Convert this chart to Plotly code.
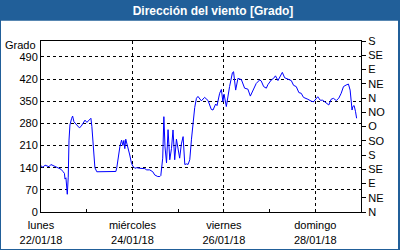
import pandas as pd
import plotly.graph_objects as go

# hours since 22/01/18 00:00
hours = [0, 1.0, 2.1, 3.1, 4.2, 5.2, 6.3, 7.3, 8.4, 9.4, 10.5, 11.5, 12.3, 12.6, 13.1, 13.8, 14.3, 14.7,
         15.2, 16.1, 16.6, 17.3, 18.7, 20.1, 21.0, 22.0, 23.1, 24.1, 25.2, 25.7, 26.2, 26.7, 27.3, 27.8,
         28.3, 29.3, 30.9, 36.2, 38.8, 39.3, 39.8, 40.3, 40.9, 41.4, 42.3, 43.0, 43.5, 44.0, 44.5, 45.4,
         45.9, 46.6, 47.5, 48.2, 49.3, 50.3, 51.9, 54.5, 55.5, 57.1, 58.7, 59.7, 61.3, 62.4, 62.9, 63.4,
         63.9, 64.5, 65.1, 65.9, 66.7, 67.6, 68.5, 69.3, 70.2, 71.1, 71.9, 72.8, 73.7, 74.6, 75.5, 76.5,
         77.2, 78.1, 79.0, 79.8, 80.7, 81.6, 82.4, 84.2, 85.9, 87.7, 89.4, 90.3, 91.7, 92.4, 93.8, 94.7,
         95.5, 96.1, 97.3, 99.0, 100.5, 101.1, 102.2, 103.4, 105.2, 106.9, 108.6, 109.9, 111.3, 113.0,
         114.8, 115.6, 116.9, 118.3, 119.1, 120.0, 120.9, 122.1, 123.1, 124.4, 125.6, 126.7, 127.9,
         129.6, 131.4, 132.6, 134.0, 135.4, 136.6, 137.8, 138.3, 140.1, 141.9, 143.1, 145.3, 146.6,
         147.9, 149.7, 151.1, 152.3, 153.5, 155.0, 156.3, 157.6, 158.8, 160.2, 161.4, 162.3, 162.8,
         163.3, 163.7, 164.4, 165.1, 165.7]
direction = [146, 141, 148, 146, 143, 150, 147, 145, 143, 138, 135, 128, 122, 104, 108, 56, 110, 227,
             275, 296, 303, 285, 277, 266, 270, 282, 290, 283, 289, 292, 296, 270, 217, 160,
             140, 127, 127, 127, 127, 128, 140, 160, 190, 206, 227, 210, 226, 200, 230, 210,
             190, 180, 154, 145, 138, 140, 138, 137, 133, 133, 127, 117, 112, 112, 115, 135,
             170, 301, 206, 155, 260, 165, 200, 259, 165, 230, 200, 170, 215, 238, 150, 152,
             150, 165, 230, 285, 330, 359, 365, 351, 362, 352, 324, 322, 341, 336, 375, 387,
             348, 372, 333, 396, 440, 443, 385, 422, 418, 391, 388, 366, 384, 406,
             417, 414, 396, 391, 402, 411, 417, 422, 430, 415, 428, 441, 424,
             419, 415, 400, 396, 377, 375, 362, 361, 356, 350, 348, 364, 353,
             353, 346, 338, 356, 359, 352, 359, 375, 396, 401, 404, 385, 350,
             322, 333, 336, 318, 296]

start = pd.Timestamp("2018-01-22 00:00")
times = [start + pd.Timedelta(hours=h) for h in hours]

x_tick_dates = ["2018-01-22", "2018-01-24", "2018-01-26", "2018-01-28"]
x_tick_labels = ["lunes<br>22/01/18", "miércoles<br>24/01/18", "viernes<br>26/01/18", "domingo<br>28/01/18"]
left_ticks = [0, 70, 140, 210, 280, 350, 420, 490]
right_ticks = [0, 45, 90, 135, 180, 225, 270, 315, 360, 405, 450, 495, 540]
right_labels = ["N", "NE", "E", "SE", "S", "SO", "O", "NO", "N", "NE", "E", "SE", "S"]

W, H = 400, 250
ML, MR, MT, MB = 41, 39, 41, 38
pw, ph = W - ML - MR, H - MT - MB

def px_x(p):
    return (p - ML) / pw

def px_y(p):
    return 1 - (p - MT) / ph

BLUE = "#215F99"
FONT = "Liberation Sans"

fig = go.Figure()
fig.add_trace(go.Scatter(x=times, y=direction, mode="lines",
                         line=dict(color="#0000FF", width=1), hoverinfo="skip", showlegend=False))
fig.add_trace(go.Scatter(x=times, y=direction, mode="lines", yaxis="y2",
                         line=dict(color="rgba(0,0,0,0)", width=0), hoverinfo="skip", showlegend=False))

fig.update_layout(
    width=W, height=H,
    margin=dict(l=ML, r=MR, t=MT, b=MB, autoexpand=False),
    paper_bgcolor=BLUE, plot_bgcolor="white",
    font=dict(family=FONT, size=11, color="#000000"),
    showlegend=False,
    title=dict(text="<b>Dirección del viento [Grado]</b>", x=213 / W, xanchor="center",
               y=1 - 10.5 / H, yanchor="middle", font=dict(family=FONT, size=12, color="white")),
    xaxis=dict(type="date", range=["2018-01-22", "2018-01-29"],
               tickvals=x_tick_dates, ticktext=x_tick_labels, automargin=False,
               showline=True, linecolor="black", linewidth=1, mirror=True,
               showgrid=True, gridcolor="black", gridwidth=1, griddash="3px,3px",
               ticks="inside", ticklen=3, tickcolor="black", ticklabelstandoff=3,
               minor=dict(dtick=86400000, tick0="2018-01-22", ticks="inside", ticklen=3,
                          tickcolor="black", showgrid=False),
               zeroline=False, tickangle=0, fixedrange=True),
    yaxis=dict(range=[0, 540], tickvals=left_ticks, ticktext=[str(v) for v in left_ticks],
               showline=True, linecolor="black", linewidth=1, mirror=True, automargin=False,
               showgrid=True, gridcolor="black", gridwidth=1, griddash="3px,3px",
               ticks="", zeroline=False, fixedrange=True),
    yaxis2=dict(range=[0, 540], overlaying="y", side="right", tickvals=right_ticks,
                ticktext=right_labels, showgrid=False, zeroline=False, automargin=False,
                ticks="outside", ticklen=4, tickcolor="black", showline=True, linecolor="black",
                fixedrange=True),
    shapes=[dict(type="rect", xref="paper", yref="paper", layer="below",
                 x0=px_x(1), x1=px_x(398), y0=px_y(249), y1=px_y(20.7),
                 fillcolor="white", line=dict(width=0))],
    annotations=[dict(text="Grado", xref="paper", yref="paper", x=px_x(38), y=px_y(45),
                      xanchor="right", yanchor="middle", showarrow=False,
                      font=dict(family=FONT, size=11, color="black"))],
)

fig.write_html("out.html")
